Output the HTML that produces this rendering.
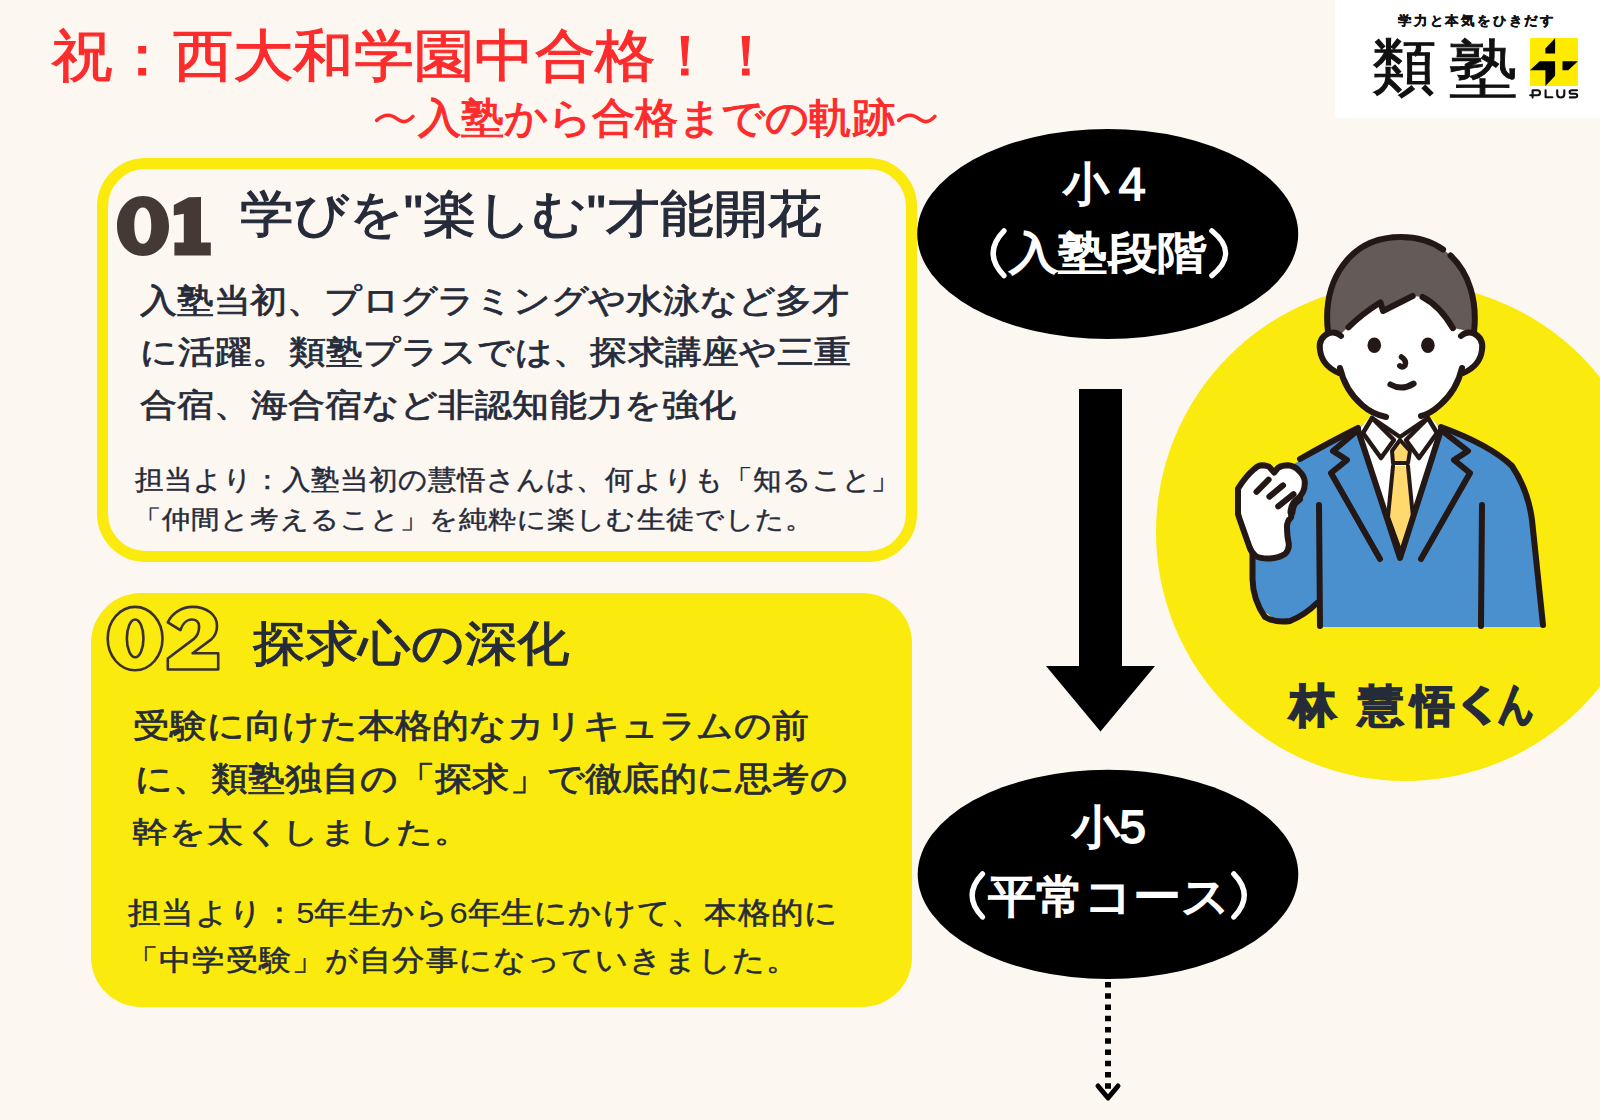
<!DOCTYPE html>
<html><head><meta charset="utf-8">
<style>
html,body{margin:0;padding:0;}
body{width:1600px;height:1120px;overflow:hidden;background:#FCF7F0;position:relative;font-family:"Liberation Sans",sans-serif;}
.t{position:absolute;white-space:nowrap;line-height:1;transform-origin:0 0;}
#gfx{position:absolute;left:0;top:0;}
</style></head>
<body>
<svg id="gfx" width="1600" height="1120" viewBox="0 0 1600 1120">
  <!-- box 1 -->
  <rect x="102.5" y="163.5" width="809" height="393" rx="43" ry="43" fill="#FCF7F0" stroke="#FBEA0D" stroke-width="11"/>
  <!-- box 2 -->
  <rect x="91" y="593" width="821" height="414" rx="50" ry="50" fill="#FBEA0D"/>

  <!-- 01 -->
  <path d="M143,196 C158,196 169,209 169,226 C169,243 158,256 143,256 C128,256 117,243 117,226 C117,209 128,196 143,196 Z M142.8,207.5 C137.5,207.5 134.3,214 134.3,225.6 C134.3,237 137.5,243.8 142.8,243.8 C148,243.8 151.3,237 151.3,225.6 C151.3,214 148,207.5 142.8,207.5 Z" fill="#453935" fill-rule="evenodd"/>
  <path d="M173.8,205 L188.8,197.3 L201,197 L201,242.5 L210.8,242.5 L210.8,255.6 L174.4,255.6 L174.4,242.5 L183.8,242.5 L183.8,213.8 L173.8,215.5 Z" fill="#453935"/>
  <!-- 02 -->
  <g fill="none" stroke="#3B3030" stroke-width="2.6" stroke-linejoin="round">
    <ellipse cx="135.1" cy="638.6" rx="27.4" ry="31.7"/>
    <ellipse cx="135.15" cy="638.4" rx="8.3" ry="18.9"/>
    <path d="M167.8,622.4 C172,613 182,606.9 192.6,606.9 C207,606.9 217,615 217,626 C217,632 215,636 211.3,639.4 L192.6,653.2 L218.2,653.2 L218.2,669.5 L167.8,669.5 L167.8,658.5 L194.2,638.6 C198,635 199.1,630 199.1,626.4 C199.1,622 196,619.5 191.8,619.5 C186,619.5 182,625 180.4,630.1 Z"/>
  </g>
  <!-- ellipses -->
  <ellipse cx="1107.7" cy="234" rx="190.5" ry="105" fill="#000"/>
  <ellipse cx="1108" cy="874.3" rx="190.3" ry="104.6" fill="#000"/>
  <!-- arrow -->
  <polygon points="1079,389 1122,389 1122,666 1155,666 1100.5,731.5 1046,666 1079,666" fill="#000"/>
  <!-- dotted -->
  <line x1="1108" y1="982" x2="1108" y2="1092" stroke="#000" stroke-width="6" stroke-dasharray="5.6 5.65"/>
  <polyline points="1098,1086 1108,1098 1118,1086" fill="none" stroke="#000" stroke-width="5" stroke-linecap="round" stroke-linejoin="round"/>
  <!-- yellow circle -->
  <circle cx="1405" cy="532" r="249" fill="#FBEA0D"/>

  <!-- person -->
  <g id="person" stroke="#231815" stroke-width="6" stroke-linecap="round" stroke-linejoin="round">
    <!-- jacket fill -->
    <path d="M1294,464 L1330,443 L1358,428 L1372,418 L1400,437 L1428,418 L1441,427 Q1490,445 1512,466 Q1528,490 1532,520 L1545,627 L1319,627 L1317,603 Q1300,617 1283,622 Q1265,618 1254,595 L1252,555 L1289,548 L1290,519 L1302,492 Z" fill="#4A90CF" stroke="none"/>
    <!-- shirt -->
    <path d="M1359,429 L1400,558 L1441,429 L1429,416 L1400,436 L1371,416 Z" fill="#fff" stroke="none"/>
    <path d="M1372,418 L1372,408 L1428,408 L1428,418 L1400,437 Z" fill="#fff" stroke="none"/>
    <!-- tie -->
    <path d="M1400,440 L1392,451 L1393,463 L1408,463 L1410,451 Z" fill="#FFD86E" stroke-width="4"/>
    <path d="M1393,466 L1388,517 L1400,550 L1413,517 L1408,466 Z" fill="#FFD86E" stroke="none"/>
    <path d="M1393,466 L1388,517 L1400,550 M1413,517 L1408,466" fill="none" stroke-width="4"/>
    <!-- collar -->
    <path d="M1372,418 L1363,433 L1381,458 L1394,440 Z" fill="#fff" stroke-width="4.5"/>
    <path d="M1428,418 L1437,433 L1419,458 L1406,440 Z" fill="#fff" stroke-width="4.5"/>
    <path d="M1372,418 L1400,437 L1428,418" fill="none" stroke-width="4.5"/>
    <!-- jacket strokes -->
    <path d="M1300,459 Q1330,442 1358,428" fill="none"/>
    <path d="M1441,427 Q1490,445 1512,466 Q1528,490 1532,520 L1543,625" fill="none"/>
    <path d="M1358,430 L1333,451 L1347,460 L1331,473 L1380,559" fill="none"/>
    <path d="M1441,430 L1468,451 L1454,460 L1470,473 L1421,559" fill="none"/>
    <path d="M1358,430 L1400,558 L1441,430" fill="none"/>
    <path d="M1319,505 L1320,626" fill="none"/>
    <path d="M1482,505 L1481,626" fill="none"/>
    <path d="M1252.5,554 L1252.5,579 Q1253,600 1265,617 Q1275,623 1290,621 Q1305,615 1317,603" fill="none"/>
    <!-- fist -->
    <path d="M1238,514 L1238,488.6 Q1246,476 1254,469.3 Q1258,465.3 1262,465.3 Q1268,465.5 1270,467.7 L1274.2,472.5 L1278.2,467.7 Q1282,465.3 1288,465.3 Q1295,466 1299,470.9 Q1304.5,476 1304.8,482 Q1305,488 1303,491.8 Q1301,496 1298,498.5 Q1294,503 1292,510 L1291,517.5 Q1287,521 1287,527 Q1287,536 1288.5,542 Q1290,549 1285,554 Q1278,558.5 1268,558.5 Q1260,558.5 1255.7,556 Q1251,552 1249.3,546.5 L1239.6,519 Z" fill="#fff"/>
    <path d="M1256.5,491.8 L1268.6,479.7 M1269.4,496.6 L1283,485.4 M1278.2,506.3 L1293.5,494.2" fill="none" stroke-width="6"/>
    <path d="M1299,499 Q1292,503 1291.5,512" fill="none" stroke-width="8"/>
    <!-- face -->
    <path d="M1329,333 Q1318,338 1320,350 Q1322,366 1339,373 L1340,368 Q1345,390 1362,405 Q1372,414 1386,417 L1421,416 Q1430,414 1439,405 Q1456,390 1461,368 L1462,373 Q1479,366 1481,350 Q1483,338 1472,333 Q1476,300 1460,270 Q1435,238 1401,237 Q1366,238 1342,268 Q1326,300 1329,333 Z" fill="#fff" stroke="none"/>
    <!-- hair fill -->
    <path d="M1328,332 C1322,280 1350,237 1401,237 C1452,237 1480,280 1474,332 L1453,328 Q1445,312 1438,306 Q1430,300 1422,297 L1413,296 L1383,311 L1380.5,302 Q1362,313 1348,327 L1340,335 Z" fill="#645A58" stroke="none"/>
    <!-- head strokes -->
    <path d="M1328,332 C1322,280 1350,237 1401,237 C1417.6,237.0 1431.7,241.5 1443.1,249.5" fill="none"/>
    <path d="M1450.5,255.5 C1469.0,272.8 1477.6,300.8 1474.0,332.0" fill="none"/>
    
    <path d="M1348.4,327.3 Q1362,314 1380.5,302.3 L1383,311 L1412.7,296" fill="none"/>
    <path d="M1422.5,297 Q1440,306 1452.9,328.2" fill="none"/>
    <path d="M1341,336 Q1336,331 1329,333 Q1318,338 1320,350 Q1322,366 1339,373" fill="none"/>
    <path d="M1461,336 Q1466,331 1473,333 Q1484,338 1482,350 Q1480,366 1463,373" fill="none"/>
    <path d="M1340,368 Q1345,390 1362,405 Q1372,414 1386,417" fill="none"/>
    <path d="M1462,368 Q1457,390 1440,405 Q1430,414 1421,416" fill="none"/>
    <ellipse cx="1374.3" cy="345.2" rx="6.8" ry="7.8" fill="#231815" stroke="none"/>
    <ellipse cx="1427.9" cy="345.2" rx="6.8" ry="7.8" fill="#231815" stroke="none"/>
    <path d="M1401.5,357 Q1407,360.5 1405,365.5 Q1402.5,368.5 1399.8,365.8" fill="none" stroke-width="5.5"/>
    <path d="M1390.4,384.5 Q1402,391 1413.6,383.6" fill="none"/>
  </g>
  <g fill="none" stroke="#fff" stroke-width="5.3" stroke-linecap="round">
    <path d="M1004,230.8 Q982.3,253.2 1004,275.6"/>
    <path d="M1211.8,230.8 Q1239.5,253.2 1211.8,275.6"/>
    <path d="M982.5,873.8 Q961.8,895.4 982.5,917"/>
    <path d="M1233.8,873.8 Q1254.7,895.4 1233.8,917"/>
  </g>
  <g fill="none" stroke="#FC2C2C" stroke-width="3.6" stroke-linecap="round">
    <path d="M376.7,120.4 C381,116.2 384.5,115.3 388.5,115.3 C394.5,115.3 399,121.6 404,121.6 C408,121.6 410.5,119 412.9,116.4"/>
    <path d="M898.75,120.4 C903,116.2 906.5,115.3 910.5,115.3 C916.5,115.3 921,121.6 926,121.6 C930,121.6 932.5,119 934.9,116.4"/>
  </g>
</svg>
<div id="logobox" style="position:absolute;left:1335px;top:0;width:265px;height:118px;background:#fff;"></div>
<svg id="plus" style="position:absolute;left:1529.7px;top:37.7px;" width="48" height="48" viewBox="0 0 48 48"><rect x="0" y="0" width="48" height="48" rx="1" fill="#FFEB00"/><polygon points="15.4,10.4 25.1,0.3 25.1,15.4 15.4,15.4" fill="#000"/><polygon points="9.7,23.2 25.1,23.2 25.1,37.8 15.4,47.9 15.4,32.3 0,32.3" fill="#000"/><polygon points="32.5,23.2 47.9,23.2 38.2,32.3 32.5,32.3" fill="#000"/></svg>
<svg id="plustext" style="position:absolute;left:1525px;top:85px;" width="60" height="18" viewBox="1525 85 60 18"><g fill="none" stroke="#111" stroke-width="2.1" stroke-linecap="round" stroke-linejoin="round"><path d="M1532.6,97.6 L1532.6,90.2 L1537.6,90.2 Q1540,90.2 1540,92.7 Q1540,95.2 1537.6,95.2 L1530.2,95.2"/><path d="M1545.6,90.2 L1545.6,97.3 L1552.4,97.3"/><path d="M1557.2,90.2 L1557.2,94.3 Q1557.2,97.5 1560.7,97.5 Q1564.3,97.5 1564.3,94.3 L1564.3,90.2"/><path d="M1577,90.2 L1572,90.2 Q1569.6,90.2 1569.6,91.9 Q1569.6,93.7 1572,93.7 L1574.8,93.7 Q1577.2,93.7 1577.2,95.5 Q1577.2,97.4 1574.8,97.4 L1569.8,97.4"/></g></svg>
<div id="T1" class="t" style="left:52.00px;top:28.25px;font-size:60px;color:#FC2C2C;-webkit-text-stroke:1.2px #FC2C2C;transform:scale(1.0056,0.9322);">祝：西大和学園中合格！！</div>
<div id="T2" class="t" style="left:418.25px;top:98.30px;font-size:44px;color:#FC2C2C;-webkit-text-stroke:1.2px #FC2C2C;transform:scale(0.9757,0.9228);">入塾から合格までの軌跡</div>
<div id="H1" class="t" style="left:239.78px;top:188.05px;font-size:53px;color:#262B3A;-webkit-text-stroke:1.2px #262B3A;transform:scale(1.0175,0.9482);">学びを"楽しむ"才能開花</div>
<div id="P1a" class="t" style="left:140.00px;top:284.39px;font-size:38px;color:#262B3A;-webkit-text-stroke:0.9px #262B3A;transform:scale(0.9685,0.8619);">入塾当初、プログラミングや水泳など多才</div>
<div id="P1b" class="t" style="left:139.57px;top:336.36px;font-size:38px;color:#262B3A;-webkit-text-stroke:0.9px #262B3A;transform:scale(0.9750,0.8454);">に活躍。類塾プラスでは、探求講座や三重</div>
<div id="P1c" class="t" style="left:140.00px;top:389.21px;font-size:38px;color:#262B3A;-webkit-text-stroke:0.9px #262B3A;transform:scale(0.9750,0.8439);">合宿、海合宿など非認知能力を強化</div>
<div id="N1a" class="t" style="left:135.00px;top:465.79px;font-size:29.5px;color:#262B3A;-webkit-text-stroke:0.5px #262B3A;transform:scale(0.9665,0.9140);">担当より：入塾当初の慧悟さんは、何よりも「知ること」</div>
<div id="N1b" class="t" style="left:132.54px;top:506.60px;font-size:29.5px;color:#262B3A;-webkit-text-stroke:0.5px #262B3A;transform:scale(0.9702,0.8535);">「仲間と考えること」を純粋に楽しむ生徒でした。</div>
<div id="H2" class="t" style="left:253.00px;top:618.58px;font-size:53px;color:#262B3A;-webkit-text-stroke:1.2px #262B3A;transform:scale(0.9934,0.9095);">探求心の深化</div>
<div id="P2a" class="t" style="left:133.23px;top:709.88px;font-size:37.5px;color:#262B3A;-webkit-text-stroke:0.9px #262B3A;transform:scale(0.9732,0.8713);">受験に向けた本格的なカリキュラムの前</div>
<div id="P2b" class="t" style="left:134.56px;top:762.78px;font-size:37.5px;color:#262B3A;-webkit-text-stroke:0.9px #262B3A;transform:scale(0.9806,0.8713);">に、類塾独自の「探求」で徹底的に思考の</div>
<div id="P2c" class="t" style="left:132.28px;top:818.26px;font-size:37.5px;color:#262B3A;-webkit-text-stroke:0.9px #262B3A;transform:scale(0.9735,0.7828);">幹を太くしました。</div>
<div id="N2a" class="t" style="left:127.50px;top:897.70px;font-size:33.5px;color:#262B3A;-webkit-text-stroke:0.6px #262B3A;transform:scale(0.9780,0.8986);">担当より：<span style="-webkit-text-stroke-width:0">5</span>年生から<span style="-webkit-text-stroke-width:0">6</span>年生にかけて、本格的に</div>
<div id="N2b" class="t" style="left:126.48px;top:945.00px;font-size:33.5px;color:#262B3A;-webkit-text-stroke:0.6px #262B3A;transform:scale(0.9757,0.8752);">「中学受験」が自分事になっていきました。</div>
<div id="E1a" class="t" style="left:1062.74px;top:161.19px;font-size:46px;color:#fff;-webkit-text-stroke:1.8px #fff;transform:scale(0.9901,0.9892);">小４</div>
<div id="E1b" class="t" style="left:1008.75px;top:230.77px;font-size:46px;color:#fff;-webkit-text-stroke:1.8px #fff;transform:scale(1.0747,0.9560);">入塾段階</div>
<div id="E2a" class="t" style="left:1071.79px;top:804.20px;font-size:46px;color:#fff;-webkit-text-stroke:1.8px #fff;transform:scale(1.0325,0.9935);">小5</div>
<div id="E2b" class="t" style="left:988.00px;top:874.23px;font-size:46px;color:#fff;-webkit-text-stroke:1.8px #fff;transform:scale(1.0442,0.9787);">平常コース</div>
<div id="NM1" class="t" style="left:1290.01px;top:683.68px;font-size:48px;color:#262B3A;font-weight:bold;-webkit-text-stroke:2.2px #262B3A;transform:scale(0.9446,0.9292);">林</div>
<div id="NM2" class="t" style="left:1358.25px;top:684.26px;font-size:48px;color:#262B3A;font-weight:bold;-webkit-text-stroke:1.3px #262B3A;transform:scale(0.9551,0.9162);">慧</div>
<div id="NM3" class="t" style="left:1410.77px;top:683.99px;font-size:48px;color:#262B3A;font-weight:bold;-webkit-text-stroke:1.9px #262B3A;transform:scale(0.9121,0.9224);">悟</div>
<div id="NM4" class="t" style="left:1449.57px;top:684.62px;font-size:48px;color:#262B3A;font-weight:bold;-webkit-text-stroke:2.4px #262B3A;transform:scale(1.1754,0.8114);">く</div>
<div id="NM5" class="t" style="left:1497.50px;top:680.84px;font-size:48px;color:#262B3A;font-weight:bold;-webkit-text-stroke:2.4px #262B3A;transform:scale(0.7447,0.9407);">ん</div>
<div id="LG1" class="t" style="left:1397.60px;top:15.29px;font-size:13.5px;color:#111;font-weight:bold;-webkit-text-stroke:0.4px #111;letter-spacing:2.3px;transform:scale(0.9690,0.9371);">学力と本気をひきだす</div>
<div id="LG2" class="t" style="left:1372.03px;top:36.35px;font-size:66px;color:#111;-webkit-text-stroke:1.2px #111;transform:scale(0.9683,0.9231);">類</div>
<div id="LG3" class="t" style="left:1448.96px;top:37.00px;font-size:66px;color:#111;-webkit-text-stroke:0.9px #111;transform:scale(1.0445,0.9375);">塾</div>
</body></html>
